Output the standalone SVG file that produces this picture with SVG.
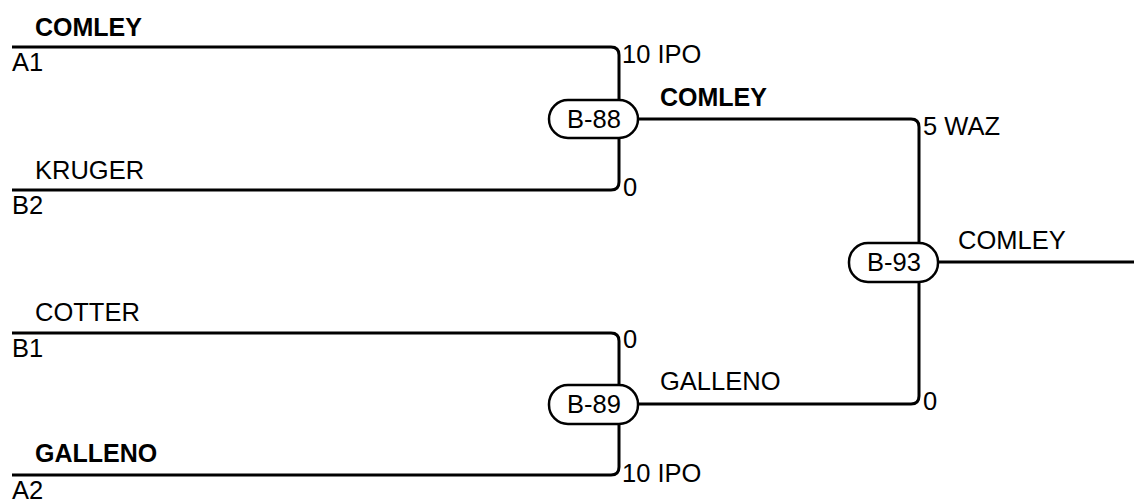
<svg xmlns="http://www.w3.org/2000/svg" width="1134" height="503" viewBox="0 0 1134 503">
<style>
.ln{fill:none;stroke:#000;stroke-width:3;stroke-linejoin:round}
.pill{fill:#fff;stroke:#000;stroke-width:2.5}
text{font-family:"Liberation Sans",Arial,sans-serif;font-size:25.5px;fill:#000}
.b{font-weight:bold;font-size:25px}
.c{text-anchor:middle}
</style>
<rect width="1134" height="503" fill="#fff"/>
<g id="connectors">
<path class="ln" d="M12,47 H611 Q619,47 619,55 V119"/>
<path class="ln" d="M12,190 H611 Q619,190 619,182 V119"/>
<path class="ln" d="M12,333 H611 Q619,333 619,341 V404"/>
<path class="ln" d="M12,475 H611 Q619,475 619,467 V404"/>
<path class="ln" d="M638,119 H911 Q919,119 919,127 V262"/>
<path class="ln" d="M638,404 H911 Q919,404 919,396 V262"/>
<path class="ln" d="M938,262 H1134"/>
</g>
<g id="labels">
<text x="35" y="36" class="b">COMLEY</text>
<text x="12" y="71">A1</text>
<text x="35" y="179">KRUGER</text>
<text x="12" y="214">B2</text>
<text x="35" y="321">COTTER</text>
<text x="12" y="357">B1</text>
<text x="35" y="462" class="b">GALLENO</text>
<text x="12" y="499">A2</text>
<text x="622" y="63">10 IPO</text>
<text x="623" y="196">0</text>
<text x="623" y="348">0</text>
<text x="622" y="482">10 IPO</text>
<text x="660" y="106" class="b">COMLEY</text>
<text x="660" y="390">GALLENO</text>
<text x="923" y="135">5 WAZ</text>
<text x="923" y="410">0</text>
<text x="958" y="249">COMLEY</text>
</g>
<g id="B-88"><rect class="pill" x="549" y="100" width="89" height="38" rx="19"/><text x="594" y="128" class="c">B-88</text></g>
<g id="B-89"><rect class="pill" x="549" y="385" width="89" height="39" rx="19"/><text x="594" y="413" class="c">B-89</text></g>
<g id="B-93"><rect class="pill" x="849" y="243" width="89" height="39" rx="19"/><text x="894" y="271" class="c">B-93</text></g>
</svg>
